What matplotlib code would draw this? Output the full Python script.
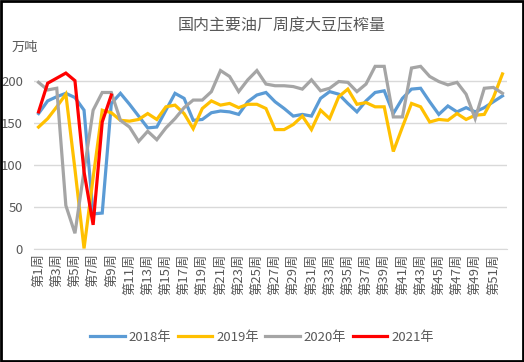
import matplotlib.pyplot as plt
from matplotlib.patches import Rectangle

plt.rcParams['font.family'] = ['Noto Sans CJK SC', 'DejaVu Sans']

weeks = list(range(1, 53))
week_labels = ['第' + str(w) + '周' for w in weeks]

y2018 = [161, 176, 181, 185, 180, 165, 42, 43, 173, 185, 172, 158, 144, 145, 165, 185,
         179, 153, 154, 162, 164, 163, 160, 175, 183, 186, 175, 167, 158, 160, 158, 179,
         187, 184, 173, 163, 176, 186, 188, 161, 179, 190, 191, 175, 160, 170, 163, 168,
         163, 168, 175, 182]
y2019 = [145, 155, 169, 184, 95, 1, 85, 165, 162, 153, 152, 154, 161, 154, 169, 171,
         161, 143, 167, 176, 171, 173, 168, 172, 172, 167, 142, 142, 148, 158, 142, 165,
         155, 181, 190, 172, 174, 169, 169, 116, 145, 173, 169, 151, 154, 153, 161, 154,
         159, 160, 180, 208]
y2020 = [198, 189, 191, 52, 19, 93, 165, 186, 186, 153, 145, 128, 140, 130, 144, 155,
         168, 177, 177, 187, 212, 205, 187, 201, 212, 196, 194, 194, 193, 190, 201, 188,
         191, 199, 198, 187, 196, 217, 217, 157, 157, 215, 217, 205, 199, 195, 198, 184,
         155, 191, 192, 185]
y2021 = [163, 197, 203, 209, 200, 92, 29, 151, 183]

series = [('2018年', y2018, '#5B9BD5'),
          ('2019年', y2019, '#FFC000'),
          ('2020年', y2020, '#A5A5A5'),
          ('2021年', y2021, '#FF0000')]

fig = plt.figure(figsize=(5.24, 3.62), dpi=100)
ax = fig.add_axes([0.0649, 0.3113, 0.9027, 0.5823])

for name, vals, color in series:
    ax.plot(weeks[:len(vals)], vals, color=color, linewidth=2.3, label=name,
            solid_joinstyle='miter')

ax.set_xlim(0.5, 52.5)
ax.set_ylim(0, 250)
ax.set_yticks([0, 50, 100, 150, 200])
ax.set_xticks(weeks[::2])
ax.set_xticklabels(week_labels[::2], rotation=90, fontsize=9.5, color='#595959')
ax.tick_params(axis='y', labelsize=9.5, labelcolor='#595959', length=0, pad=8)
ax.tick_params(axis='x', length=0, pad=3)
ax.grid(axis='y', color='#D9D9D9', linewidth=1)
ax.set_axisbelow(True)
for s in ['top', 'right', 'left']:
    ax.spines[s].set_visible(False)
ax.spines['bottom'].set_color('#D9D9D9')

fig.text(0.538, 0.93, '国内主要油厂周度大豆压榨量', ha='center', va='center',
         fontsize=11.5, color='#595959')
fig.text(0.022, 0.868, '万吨', ha='left', va='center', fontsize=9.5, color='#595959')

fig.legend(loc='center', bbox_to_anchor=(0.5, 0.069), ncol=4, frameon=False,
           fontsize=9.5, handlelength=2.6, handletextpad=0.3, columnspacing=0.5,
           labelcolor='#595959')

fig.patches.append(Rectangle((0.002, 0.003), 0.996, 0.994, transform=fig.transFigure,
                             fill=False, edgecolor='black', linewidth=2))

fig.savefig('out.png', dpi=100)
